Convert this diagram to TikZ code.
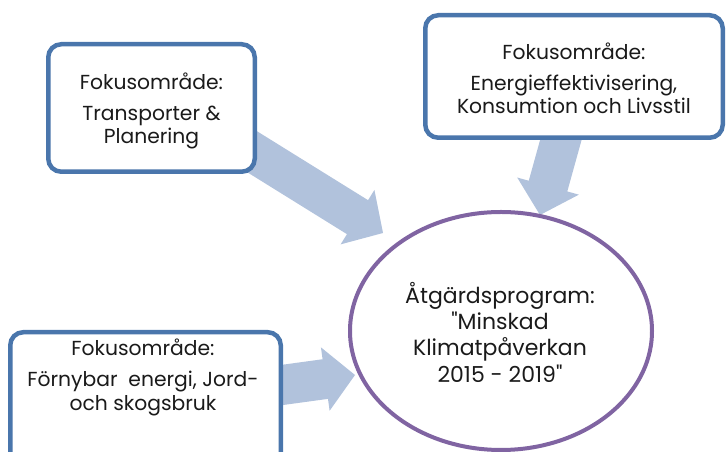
\documentclass[tikz,border=0pt]{standalone}
\usepackage{fontspec}
\setmainfont{Poppins}[Ligatures=TeXOff]
\usetikzlibrary{calc,shapes.geometric}
\definecolor{boxblue}{HTML}{4A76AC}
\definecolor{arrowfill}{HTML}{B1C2DC}
\definecolor{circpurple}{HTML}{8064A2}
\definecolor{txt}{HTML}{1A1A1A}
\begin{document}
\begin{tikzpicture}[x=1pt,y=1pt,
  focusbox/.style={draw=boxblue, line width=4.5pt, rounded corners=13pt, fill=white, inner sep=0pt},
  plaintext/.style={align=center, text=txt, font=\fontsize{20.3}{23.5}\selectfont, inner sep=0pt},
  circtext/.style={align=center, text=txt, font=\fontsize{22}{26.3}\selectfont, inner sep=0pt},
  blockarrow/.style={fill=arrowfill, draw=none}]
\useasboundingbox (0,0) rectangle (726,452);
\clip (0,0) rectangle (726,452);
% arrow end points
\coordinate (s1) at (230,314); \coordinate (t1) at (383,219);
\coordinate (s2) at (565,327); \coordinate (t2) at (540,237);
\coordinate (s3) at (260,64);  \coordinate (t3) at (355,77);
\foreach \s/\t in {s1/t1,s2/t2,s3/t3}{
  \coordinate (j) at ($(\t)!30pt!(\s)$);
  \fill[blockarrow] ($(\s)!20pt!90:(\t)$) -- ($(j)!20pt!90:(\t)$) -- ($(j)!32pt!90:(\t)$)
    -- (\t) -- ($(j)!32pt!-90:(\t)$) -- ($(j)!20pt!-90:(\t)$) -- ($(\s)!20pt!-90:(\t)$) -- cycle;
}
% boxes
\node[focusbox, minimum width=206.5pt, minimum height=127.5pt] (box1) at (151.5,344) {};
\node[plaintext] (box1text) at (151.5,341)
  {Fokusområde:\\[7pt]Transporter \&\\Planering};
\node[focusbox, minimum width=297.5pt, minimum height=122.5pt] (box2) at (574,375.5) {};
\node[plaintext] (box2text) at (574,373.5)
  {Fokusområde:\\[7pt]Energieffektivisering,\\Konsumtion och Livsstil};
\node[focusbox, minimum width=270.5pt, minimum height=147.75pt] (box3) at (145.5,45.9) {};
\node[plaintext] (box3text) at (143,75)
  {Fokusområde:\\[8pt]Förnybar\ \ energi, Jord-\\och skogsbruk};
% central ellipse
\node[ellipse, draw=circpurple, line width=4pt, minimum width=302pt, minimum height=238pt,
  inner sep=0pt] (prog) at (501,121) {};
\node[circtext] (progtext) at (500,120)
  {Åtgärdsprogram:\\"Minskad\\Klimatpåverkan\\2015 - 2019"};
\end{tikzpicture}
\end{document}
